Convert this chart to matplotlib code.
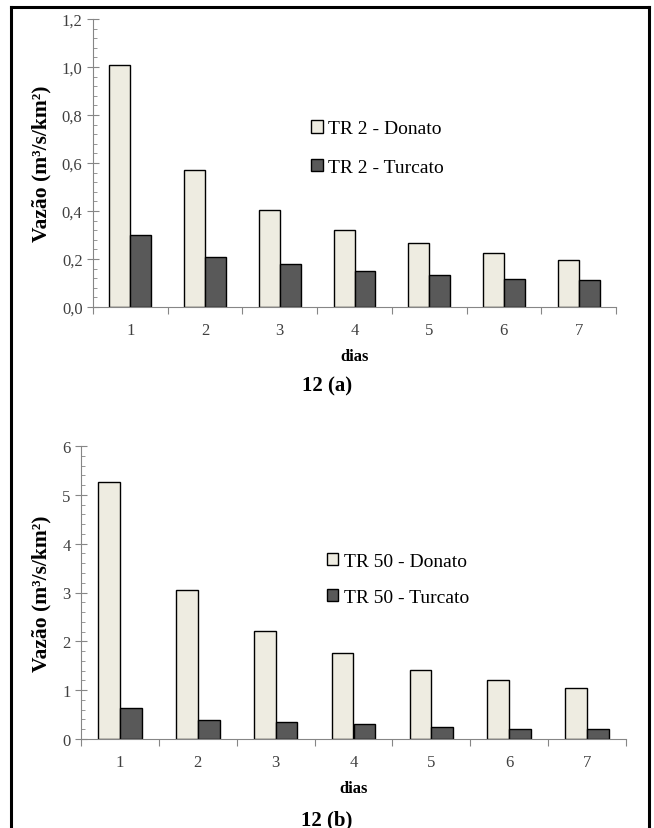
import matplotlib.pyplot as plt
from matplotlib.lines import Line2D
from matplotlib.ticker import MultipleLocator, FuncFormatter
import numpy as np

# dados
dias = [1, 2, 3, 4, 5, 6, 7]
tr2_donato = [1.01, 0.57, 0.405, 0.322, 0.267, 0.225, 0.197]
tr2_turcato = [0.302, 0.21, 0.179, 0.149, 0.134, 0.117, 0.112]
tr50_donato = [5.26, 3.05, 2.21, 1.76, 1.41, 1.20, 1.04]
tr50_turcato = [0.63, 0.39, 0.35, 0.30, 0.24, 0.21, 0.21]

cor_clara = '#EEECE1'
cor_escura = '#595959'
cinza = '#868686'

plt.rcParams['font.family'] = 'Liberation Serif'

W, H = 654, 829
fig = plt.figure(figsize=(W / 100, H / 100), dpi=100)


def painel(ax, s1, s2, lab1, lab2, ymax, ymaj, ymin, decimal, leg_pos, leg_esp, ylab_x, xlab_y):
    x = np.arange(len(dias))
    w = 0.28
    ax.bar(x - w / 2, s1, w, color=cor_clara, edgecolor='black', linewidth=1, label=lab1)
    ax.bar(x + w / 2, s2, w, color=cor_escura, edgecolor='black', linewidth=1, label=lab2)
    ax.set_xlim(-0.5, len(dias) - 0.5)
    ax.set_ylim(0, ymax)
    ax.yaxis.set_major_locator(MultipleLocator(ymaj))
    ax.yaxis.set_minor_locator(MultipleLocator(ymin))
    if decimal:
        ax.yaxis.set_major_formatter(FuncFormatter(lambda v, p: f'{v:.1f}'.replace('.', ',')))
    else:
        ax.yaxis.set_major_formatter(FuncFormatter(lambda v, p: f'{v:.0f}'))
    # ticks do eixo x entre as categorias, rótulos no centro
    ax.set_xticks(np.arange(-0.5, len(dias), 1))
    ax.set_xticklabels([])
    ax.set_xticks(x, minor=True)
    ax.set_xticklabels([str(d) for d in dias], minor=True)
    ax.tick_params(axis='x', which='major', direction='out', length=5, color=cinza)
    ax.tick_params(axis='x', which='minor', length=0, labelsize=12, labelcolor='#404040', pad=11)
    ax.tick_params(axis='y', which='major', direction='inout', length=8, color=cinza,
                   labelsize=12, labelcolor='#404040')
    ax.tick_params(axis='y', which='minor', direction='in', length=3, color=cinza)
    for s in ['top', 'right']:
        ax.spines[s].set_visible(False)
    for s in ['left', 'bottom']:
        ax.spines[s].set_color(cinza)
    ax.set_ylabel('Vazão (m³/s/km²)', fontsize=15.5, fontweight='bold')
    ax.yaxis.set_label_coords(ylab_x, 0.5)
    ax.yaxis.label.set_va('center')
    ax.set_xlabel('dias', fontsize=12, fontweight='bold')
    ax.xaxis.set_label_coords(0.5, xlab_y)
    ax.xaxis.label.set_va('center')
    ax.legend(loc='center left', bbox_to_anchor=leg_pos, frameon=False, fontsize=14,
              handlelength=0.6, handleheight=0.6, handletextpad=0.3, labelspacing=leg_esp,
              borderpad=0)


# painel (a): eixo de x=93 a 616 px, y=20 a 308 px
ax1 = fig.add_axes([93 / W, 1 - 308 / H, 523 / W, 288 / H])
painel(ax1, tr2_donato, tr2_turcato, 'TR 2 - Donato', 'TR 2 - Turcato',
       1.2, 0.2, 0.04, True, (0.398, 0.552), 1.1, (41 - 93) / 523, -(357 - 308) / 288)

# painel (b): eixo de x=81 a 626 px, y=447 a 740 px
ax2 = fig.add_axes([81 / W, 1 - 740 / H, 545 / W, 293 / H])
painel(ax2, tr50_donato, tr50_turcato, 'TR 50 - Donato', 'TR 50 - Turcato',
       6, 1, 0.2, False, (0.433, 0.545), 0.95, (41 - 81) / 545, -(789 - 740) / 293)

fig.text(0.5, 1 - 386 / H, '12 (a)', ha='center', va='center', fontsize=15, fontweight='bold')
fig.text(0.5, 1 - 820 / H, '12 (b)', ha='center', va='center', fontsize=15, fontweight='bold')

# moldura (sem borda inferior visível)
xl, xr, yt = 11 / W, 649 / W, 1 - 8 / H
for xs, ys in [([xl, xl], [0, yt]), ([xl, xr], [yt, yt]), ([xr, xr], [yt, 0])]:
    fig.add_artist(Line2D(xs, ys, color='black', linewidth=2.2, transform=fig.transFigure))

plt.savefig('out.png', dpi=100)
